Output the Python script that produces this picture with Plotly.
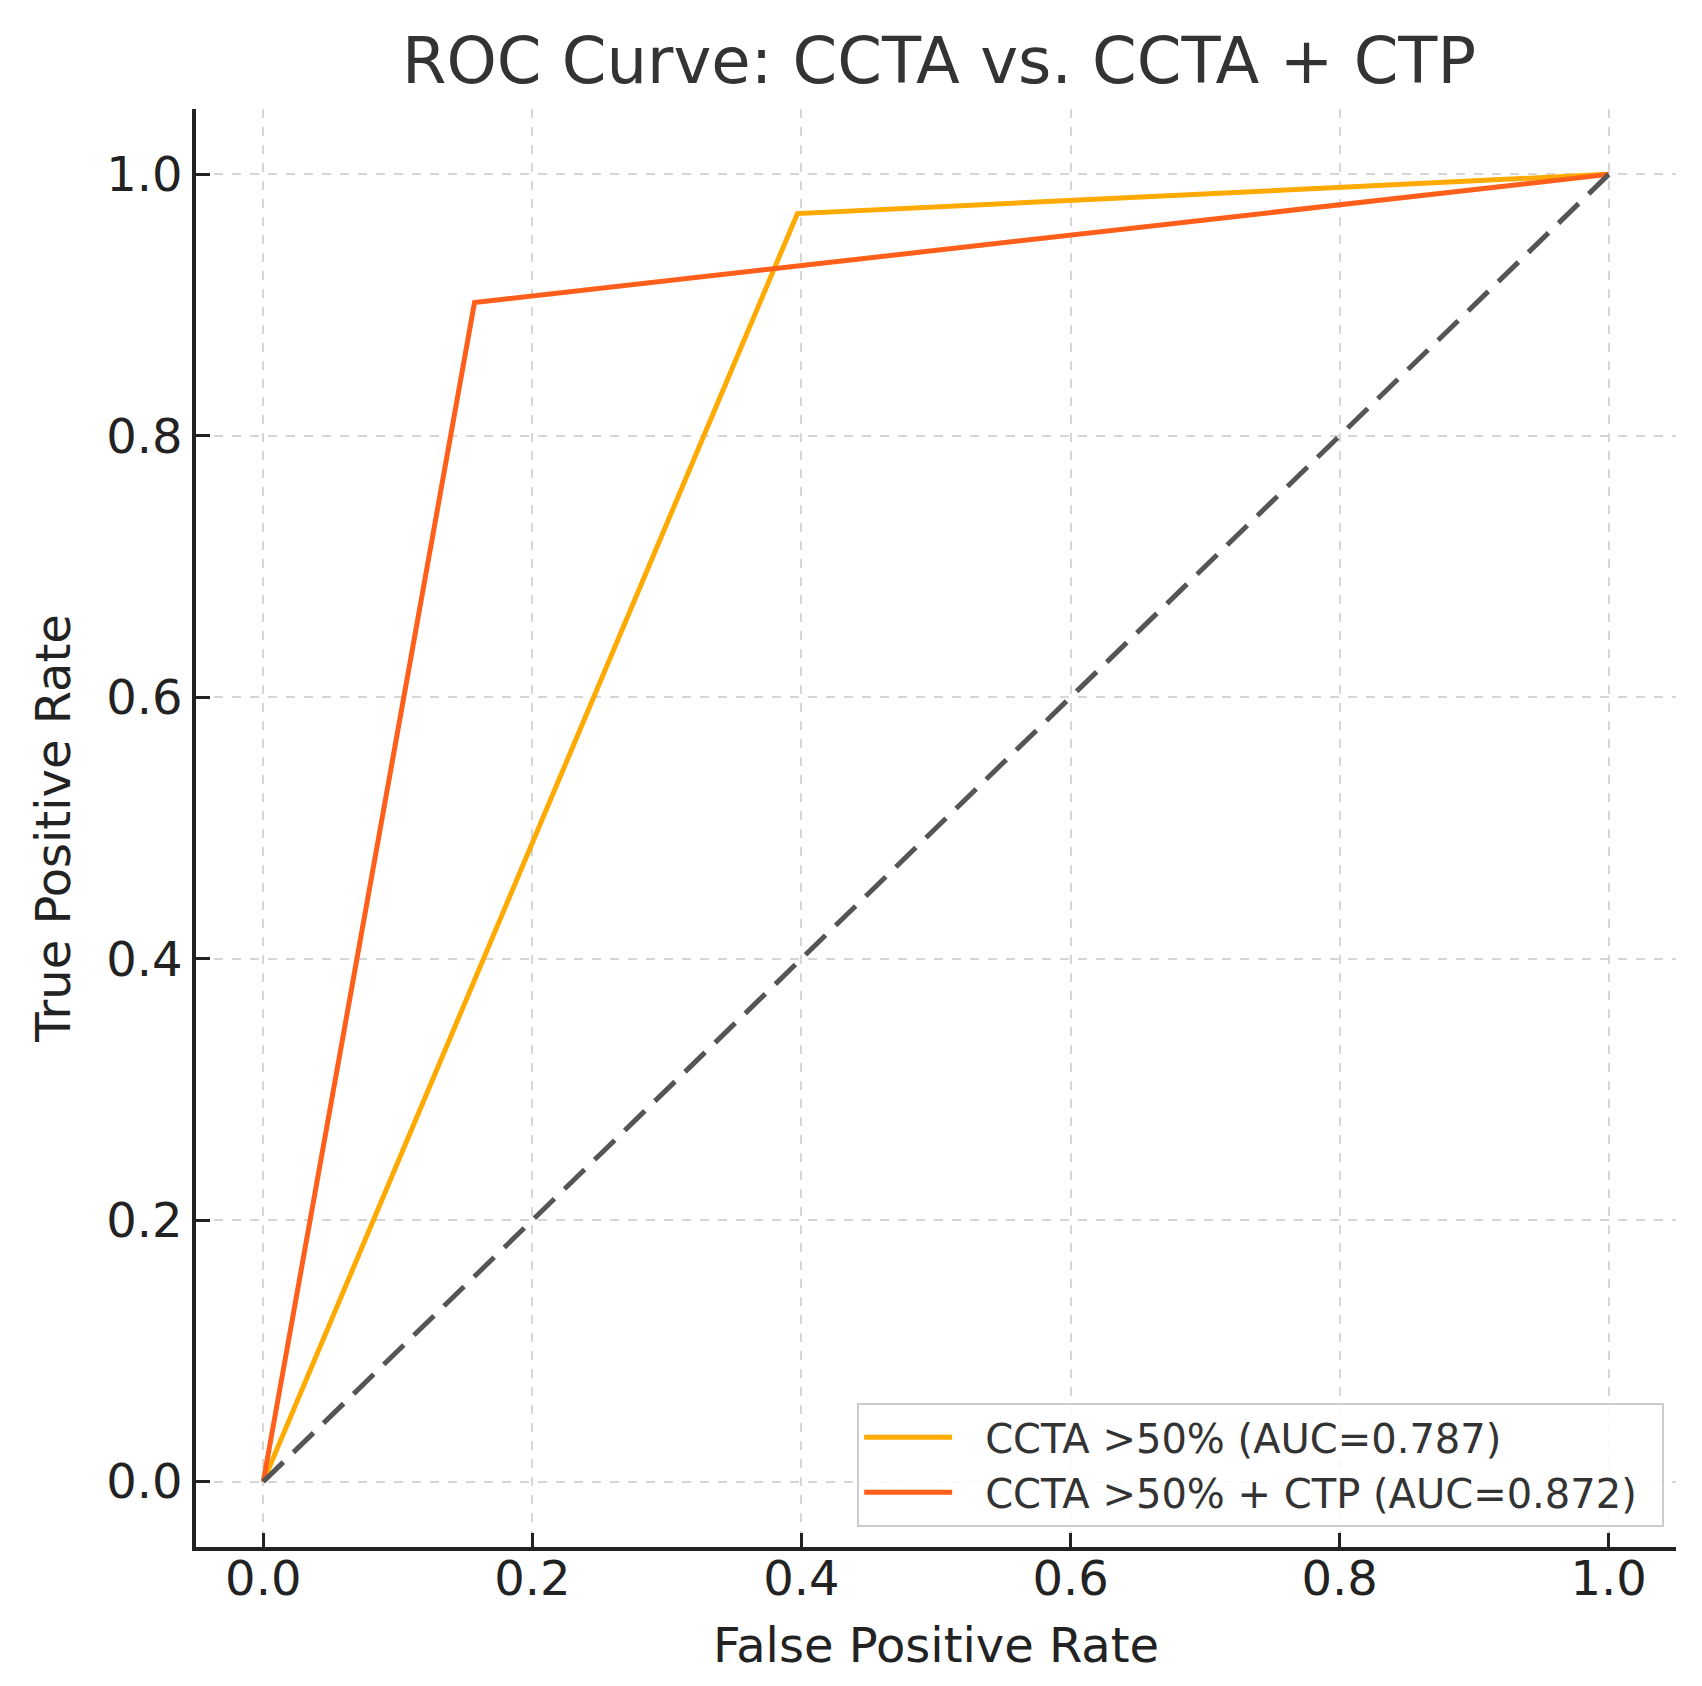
import plotly.graph_objects as go

# ROC points
fpr_ccta = [0.0, 0.397, 1.0]
tpr_ccta = [0.0, 0.970, 1.0]
fpr_ctp = [0.0, 0.157, 1.0]
tpr_ctp = [0.0, 0.902, 1.0]
chance = [0.0, 1.0]
names = ['CCTA >50% (AUC=0.787)', 'CCTA >50% + CTP (AUC=0.872)']
ticks = [0.0, 0.2, 0.4, 0.6, 0.8, 1.0]
tick_text = ['0.0', '0.2', '0.4', '0.6', '0.8', '1.0']

# a bit of padding around legend text (en space + thin space)
pad_l, pad_r = '\u2002\u2009', '\u2002'

fig = go.Figure()
fig.add_trace(go.Scatter(x=fpr_ccta, y=tpr_ccta, mode='lines', name=pad_l + names[0] + pad_r,
                         line=dict(color='#FFAA00', width=5)))
fig.add_trace(go.Scatter(x=fpr_ctp, y=tpr_ctp, mode='lines', name=pad_l + names[1] + pad_r,
                         line=dict(color='#FF5F1A', width=5)))
fig.add_trace(go.Scatter(x=chance, y=chance, mode='lines', showlegend=False,
                         line=dict(color='#555555', width=5, dash='28px,14px')))

axis = dict(range=[-0.05, 1.05], tickvals=ticks, ticktext=tick_text,
            showgrid=True, gridcolor='#d6d6d6', gridwidth=1.5, griddash='dash',
            zeroline=False, showline=True, linecolor='#222222', linewidth=3.5,
            ticks='inside', ticklen=14, tickwidth=3, tickcolor='#222222',
            tickfont=dict(size=48, color='#222222'))

fig.update_layout(
    width=1702, height=1686,
    font=dict(family='DejaVu Sans', color='#222222'),
    paper_bgcolor='white', plot_bgcolor='white',
    margin=dict(l=188, r=34, t=101, b=147),
    title=dict(text='ROC Curve: CCTA vs. CCTA + CTP', x=0.547, xanchor='center',
               y=1 - 53 / 1686, yref='container', yanchor='middle',
               font=dict(size=64, color='#333333')),
    xaxis=dict(axis, ticklabelstandoff=-13,
               title=dict(text='False Positive Rate', font=dict(size=48), standoff=24)),
    yaxis=dict(axis, title=dict(text='True Positive Rate', font=dict(size=48), standoff=22)),
    legend=dict(x=0.992, y=0.014, xanchor='right', yanchor='bottom',
                bgcolor='rgba(255,255,255,0.85)', bordercolor='#cccccc', borderwidth=2,
                font=dict(size=40, color='#333333'), itemwidth=88),
)

fig.write_html('out.html')
